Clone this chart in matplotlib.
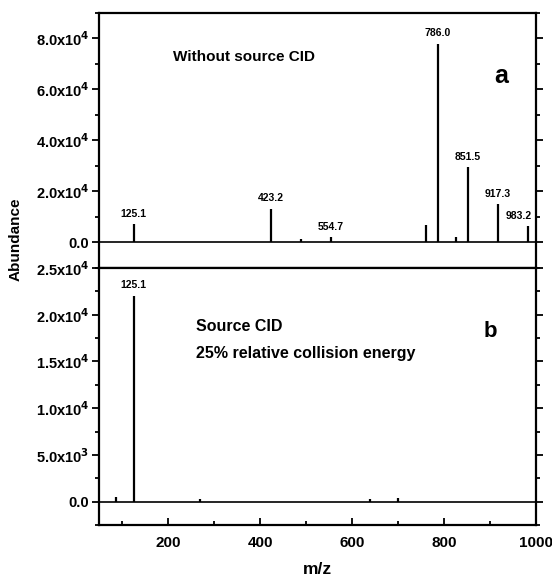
import matplotlib
matplotlib.use("Agg")
import matplotlib.pyplot as plt
from matplotlib.ticker import MultipleLocator

plt.rcParams['font.family'] = ['Liberation Sans', 'DejaVu Sans']
plt.rcParams['font.weight'] = 'bold'
plt.rcParams['mathtext.default'] = 'bf'

# Panel a: without source CID
mz_a = [125.1, 423.2, 490.0, 554.7, 760.0, 786.0, 826.0, 851.5, 917.3, 983.2]
ab_a = [7400, 13300, 1500, 2300, 7000, 78000, 2300, 29700, 15200, 6600]
lab_a = {125.1: "125.1", 423.2: "423.2", 554.7: "554.7", 786.0: "786.0",
         851.5: "851.5", 917.3: "917.3", 983.2: "983.2"}

# Panel b: source CID, 25% relative collision energy
mz_b = [87.0, 125.1, 270.0, 640.0, 700.0]
ab_b = [500, 22000, 250, 300, 350]
lab_b = {125.1: "125.1"}

yt_a = [0, 20000, 40000, 60000, 80000]
ytl_a = ["0.0", r"2.0x10$^4$", r"4.0x10$^4$", r"6.0x10$^4$", r"8.0x10$^4$"]
yt_b = [0, 5000, 10000, 15000, 20000, 25000]
ytl_b = ["0.0", r"5.0x10$^3$", r"1.0x10$^4$", r"1.5x10$^4$", r"2.0x10$^4$", r"2.5x10$^4$"]
xt = [200, 400, 600, 800, 1000]

fig = plt.figure(figsize=(5.52, 5.79), dpi=100)
L, R = 99/552, 536/552
ax_a = fig.add_axes([L, 1-268/579, R-L, (268-13)/579])
ax_b = fig.add_axes([L, 1-525/579, R-L, (525-268)/579])

for ax in (ax_a, ax_b):
    ax.set_xlim(50, 1000)
    for s in ax.spines.values():
        s.set_linewidth(1.6)
    ax.axhline(0, color='black', lw=1.2)
    ax.xaxis.set_minor_locator(MultipleLocator(100))
    ax.tick_params(axis='y', which='both', direction='out', left=True, right=True,
                   labelsize=10.5, width=1.3, pad=2)
    ax.tick_params(axis='y', which='major', length=5)
    ax.tick_params(axis='y', which='minor', length=3)
    ax.tick_params(axis='x', which='both', direction='in', width=1.3, labelsize=11)
    ax.tick_params(axis='x', which='major', length=5, pad=8)
    ax.tick_params(axis='x', which='minor', length=3)

# panel a
ax_a.set_ylim(-10000, 90000)
ax_a.vlines(mz_a, 0, ab_a, color='black', lw=1.6)
for m, a in zip(mz_a, ab_a):
    if m in lab_a:
        xm = m - 20 if m > 960 else m
        ax_a.text(xm, a + 2000, lab_a[m], ha='center', va='bottom', fontsize=7.5, fontweight='bold')
ax_a.set_yticks(yt_a)
ax_a.set_yticklabels(ytl_a)
ax_a.yaxis.set_minor_locator(MultipleLocator(10000))
ax_a.set_xticks(xt)
ax_a.tick_params(axis='x', which='both', labelbottom=False, bottom=False)
ax_a.text(0.17, 0.81, "Without source CID", transform=ax_a.transAxes, fontsize=11, fontweight='bold')
ax_a.text(0.905, 0.725, "a", transform=ax_a.transAxes, fontsize=18, fontweight='bold')

# panel b
ax_b.set_ylim(-2500, 25000)
ax_b.vlines(mz_b, 0, ab_b, color='black', lw=1.6)
for m, a in zip(mz_b, ab_b):
    if m in lab_b:
        ax_b.text(m, a + 600, lab_b[m], ha='center', va='bottom', fontsize=7.5, fontweight='bold')
ax_b.set_yticks(yt_b)
ax_b.set_yticklabels(ytl_b)
ax_b.yaxis.set_minor_locator(MultipleLocator(2500))
ax_b.set_xticks(xt)
ax_b.set_xticklabels([str(v) for v in xt])
ax_b.text(0.222, 0.755, "Source CID", transform=ax_b.transAxes, fontsize=11.5, fontweight='bold')
ax_b.text(0.222, 0.65, "25% relative collision energy", transform=ax_b.transAxes, fontsize=11.5, fontweight='bold')
ax_b.text(0.88, 0.73, "b", transform=ax_b.transAxes, fontsize=16, fontweight='bold')

fig.text(0.5 * (L + R), 0.004, "m/z", ha='center', va='bottom', fontsize=12.5, fontweight='bold')
fig.text(0.029, 1 - 239/579, "Abundance", rotation=90, ha='center', va='center', fontsize=11, fontweight='bold')

fig.savefig("out.png", dpi=100)
